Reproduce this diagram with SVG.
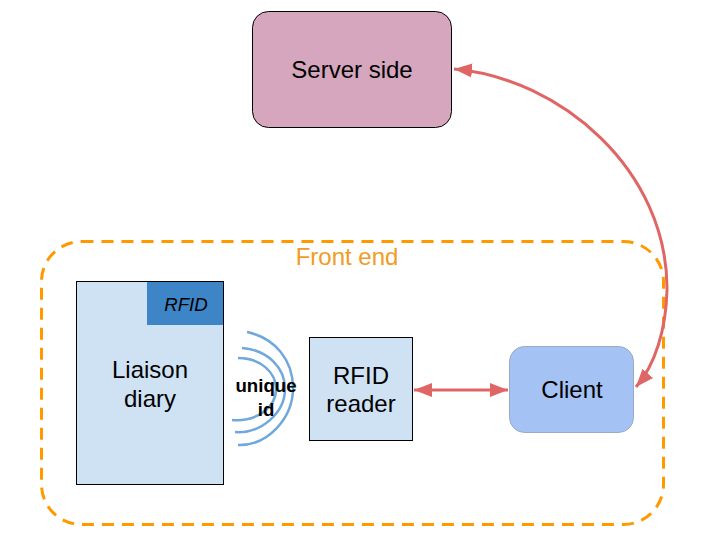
<svg xmlns="http://www.w3.org/2000/svg" width="703" height="539" viewBox="0 0 703 539">
<defs>
<style>
text{font-family:"Liberation Sans",Arial,sans-serif;fill:#000;text-anchor:middle}
.lbl{font-size:24px}
.conn{fill:none;stroke:#e06666;stroke-width:3}
.wave{fill:none;stroke:#6fa8dc;stroke-width:2.5}
</style>
<marker id="ah" markerUnits="userSpaceOnUse" markerWidth="20" markerHeight="16" viewBox="0 0 20 16" refX="18" refY="8" orient="auto-start-reverse">
<path d="M0,1 L18,8 L0,15 z" fill="#e06666"/>
</marker>
</defs>
<rect width="703" height="539" fill="#fff"/>
<g id="frontend">
<rect x="41.5" y="241.5" width="622" height="283" rx="40" fill="none" stroke="#ff9900" stroke-width="3" stroke-dasharray="12,8"/>
<text x="347" y="265" style="font-size:24px;fill:#f29b25">Front end</text>
</g>
<g id="server">
<rect x="252.5" y="11.5" width="199" height="116" rx="16" fill="#d5a6bd" stroke="#000" stroke-width="1"/>
<text class="lbl" x="352" y="78">Server side</text>
</g>
<g id="diary">
<rect x="76.5" y="281.5" width="147" height="203" fill="#cfe2f3" stroke="#000" stroke-width="1"/>
<rect x="147" y="282" width="76" height="43" fill="#3d85c6"/>
<text x="186" y="311" style="font-size:18.67px;font-style:italic">RFID</text>
<text class="lbl" x="150" y="378">Liaison</text>
<text class="lbl" x="150" y="407">diary</text>
</g>
<g id="uniqueid">
<path class="wave" d="M247,332 C275,338 293,360 293,388 C293,418 268,446 238,445"/>
<path class="wave" d="M242,348 C268,350 285,368 285,389 C285,412 262,434 235,432"/>
<path class="wave" d="M238,358 C260,358 276,372 276,389 C276,408 256,422 232,420"/>
<text x="266" y="392" style="font-size:18.67px;font-weight:bold">unique</text>
<text x="266" y="416" style="font-size:18.67px;font-weight:bold">id</text>
</g>
<g id="reader">
<rect x="309.5" y="337.5" width="103" height="103" fill="#cfe2f3" stroke="#000" stroke-width="1"/>
<text class="lbl" x="361" y="384">RFID</text>
<text class="lbl" x="361" y="412">reader</text>
</g>
<g id="client">
<rect x="509.5" y="346.5" width="124" height="86" rx="15" fill="#a4c2f4" stroke="#9aa9c4" stroke-width="1"/>
<text class="lbl" x="572" y="398">Client</text>
</g>
<g id="connectors">
<path class="conn" d="M414,390 L508,390" marker-start="url(#ah)" marker-end="url(#ah)"/>
<path class="conn" d="M454,69 C560,78 668,170 667,290 C666,330 655,365 636,387" marker-start="url(#ah)" marker-end="url(#ah)"/>
</g>
</svg>
